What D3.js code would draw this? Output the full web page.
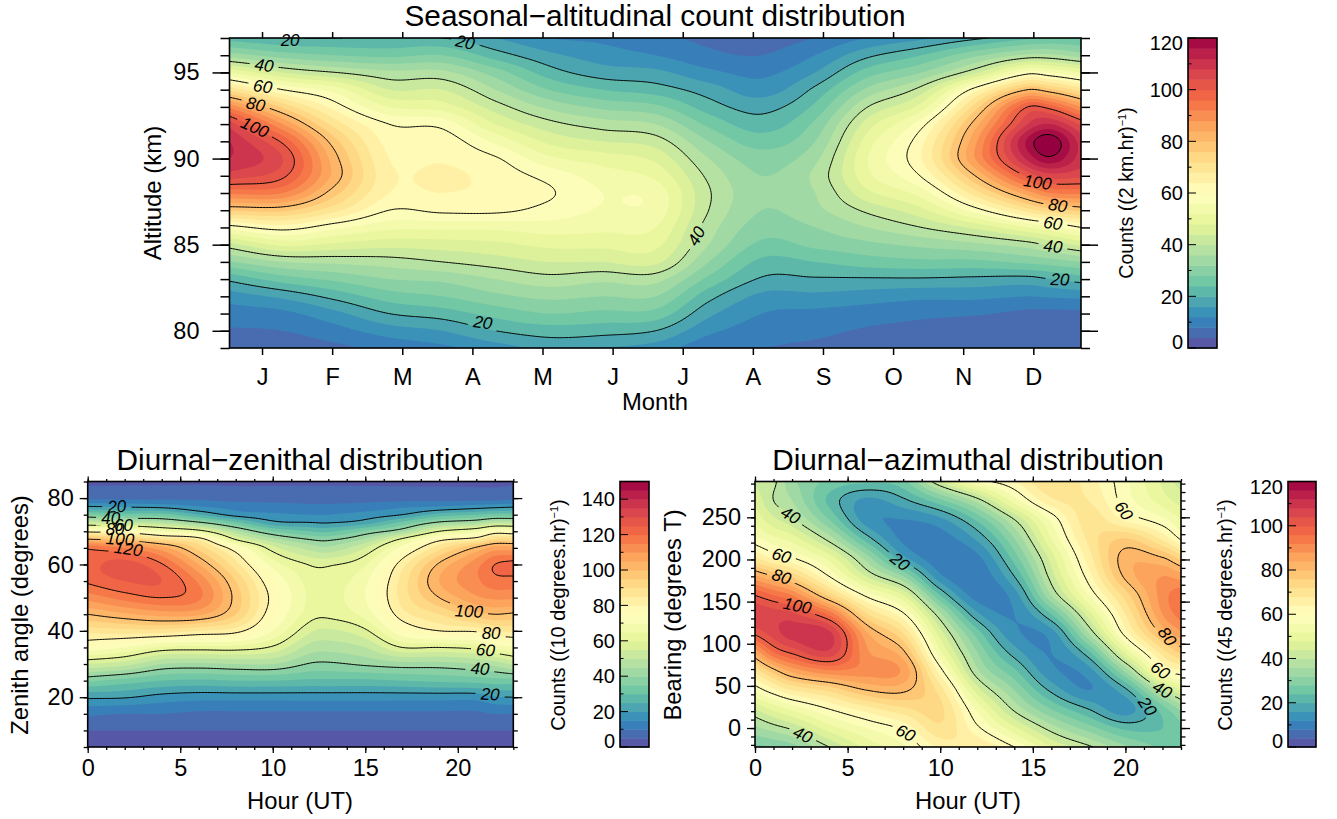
<!DOCTYPE html>
<html>
<head>
<meta charset="utf-8">
<script src="https://cdn.jsdelivr.net/npm/d3@7"></script>
<style>
  html, body { margin: 0; padding: 0; background: #fff; }
  svg { display: block; }
  text { font-family: "Liberation Sans", Arial, sans-serif; fill: #000; }
  .contour-label { font-style: italic; font-size: 17px; }
</style>
</head>
<body>
<svg width="1337" height="819"></svg>
<script>
// ---- Seasonal panel: one list of counts per month position, altitude from the top down
const seasonMonths = [-0.464, 0.295, 1.056, 1.81, 2.57, 3.33, 4.09, 4.85, 5.61, 6.37, 7.13, 7.89, 8.64, 9.41, 10.17, 10.92, 11.24, 11.68];
const seasonAltitudes = [97, 96, 95, 94, 93, 92, 91, 90, 89, 88, 87, 86, 85, 84, 83, 82, 81, 80, 79];
const seasonCounts = [
  [22, 34, 52, 71, 91, 106, 112, 112, 106, 93, 76.5, 58, 42.5, 31.5, 21, 14, 10, 7.5, 5],
  [20, 30, 44, 60, 75, 88, 99, 104, 101, 92, 77, 62, 49, 36, 26, 17, 11, 8, 5.5],
  [20, 28, 40, 54, 62, 70, 77, 81, 82, 77, 69, 57, 47, 37, 29, 21.5, 15, 10.5, 7],
  [20, 27, 37, 44, 52, 60, 62.5, 64, 65, 64, 60, 53, 45.5, 38, 32, 26, 20, 14, 9],
  [20, 28, 37, 44, 50, 58.5, 62.5, 63.5, 65, 64, 61, 53, 46, 40, 33, 28, 22, 16, 11],
  [16, 22, 30, 36, 42, 48, 55, 60.5, 62.5, 63, 61, 53, 47, 42, 36, 31, 25.5, 20, 14],
  [12, 17, 22, 28, 35, 41.5, 47, 53, 58.5, 60.5, 58.5, 54, 49, 44, 38.5, 33, 28, 22, 17],
  [11, 14, 18, 24, 31, 38, 44, 50, 54, 56, 55.5, 53, 49, 44, 37, 32, 27, 21.5, 16],
  [9, 12, 17, 22, 29, 36, 42, 47, 51, 54.5, 54.5, 52, 49, 45, 37.5, 32, 26.5, 20, 14],
  [7, 9, 13, 18, 22, 27, 32, 36, 39, 40.5, 40, 38, 36, 32, 27, 21.5, 17, 13, 9],
  [6, 8, 11, 14, 18.5, 22, 26, 30, 32, 33, 32, 30, 27, 23, 19.5, 15, 12, 10, 8],
  [8, 12, 16, 21, 25, 29, 32, 35, 37, 36, 35, 32, 29, 24, 19.5, 15, 11, 9, 7],
  [12, 19, 26, 33, 40, 46, 50, 52, 51, 47, 41, 36, 31, 26, 19.5, 14, 10, 7.5, 6],
  [15, 24, 32, 42, 50, 58.5, 63, 64, 60.5, 54, 47, 40, 33, 27, 19.5, 13, 9, 6.5, 5],
  [19, 31, 43, 62, 74, 82, 87, 88, 80, 70, 58, 45, 35, 27, 19, 13, 8.5, 5, 4.5],
  [23, 37, 58, 80, 100, 108, 117, 113, 101, 86, 70, 52, 38, 29, 18.5, 12, 7, 4.5, 4.5],
  [24, 37, 56, 77, 98, 112, 123, 119, 106, 92, 74, 55, 41, 30, 20, 12.5, 7, 5, 4.5],
  [24, 34, 52, 70, 88, 103, 110, 110, 105, 93, 77, 60, 45, 32, 22, 13, 7, 5, 4]
];
const monthTicks = [0, 1, 2, 3, 4, 5, 6, 7, 8, 9, 10, 11];
const monthNames = ['J', 'F', 'M', 'A', 'M', 'J', 'J', 'A', 'S', 'O', 'N', 'D'];

// ---- Zenith panel
const zenithHours = [0, 2, 4, 6, 8, 10, 12, 13, 15, 17, 19, 21, 22, 23];
const zenithAngles = [85, 80, 77.5, 75, 72.5, 70, 67.5, 65, 60, 55, 50, 45, 40, 35, 30, 25, 20, 15, 10, 5];
const zenithCounts = [
  [4, 9, 20, 35, 54, 78, 101, 119, 123, 121, 112, 100, 87, 74, 55, 36, 21, 11, 5, 3],
  [4, 9, 19, 32, 52, 76, 98, 115, 127, 125, 117, 104, 88, 70, 52, 33, 20.5, 10, 5, 3],
  [4, 9, 18, 32, 49, 69, 90, 107, 120.5, 125, 120, 107, 88, 64, 45, 30, 18, 10, 5, 3],
  [4, 9, 15, 25, 42, 63, 84, 93, 105, 114, 116, 106, 85, 63, 44, 29, 17, 9, 5, 3],
  [4, 8, 13, 18, 32, 47, 60, 76, 87, 95, 98, 95, 82, 63, 45, 30, 17, 9, 5, 3],
  [4, 8, 12, 16, 22, 35, 47, 57, 68, 75, 78, 76, 70, 59, 45, 30, 17, 9, 5, 3],
  [4, 8, 11, 15, 20.5, 30, 40, 48, 59.6, 63, 64, 62.5, 56, 48, 39.5, 29, 17, 9, 5, 3],
  [4, 8, 11, 15, 20, 29, 39, 46, 59.2, 62, 63, 61.4, 54, 47, 39, 29, 17, 9, 5, 3],
  [4, 8, 12, 17, 23, 36, 46, 55, 64.5, 69, 70, 67, 59, 50, 41, 29, 17, 9, 5, 3],
  [4, 8, 14, 20, 32, 44, 62, 72, 83, 87, 87, 83, 74, 60, 43, 30, 17, 9, 5, 3],
  [4, 8, 15, 27, 42, 60, 78, 88, 101, 105, 100, 90, 80, 60, 43, 31, 17, 9, 5, 3],
  [4, 8, 17, 30, 46, 67, 84, 101, 113, 114, 109, 98, 81, 62, 45, 32, 17, 9, 5, 3],
  [4, 8, 18, 32, 51, 75, 92, 107, 120, 118, 111, 100, 85, 67, 47, 33, 19.5, 10, 5, 3],
  [4, 9, 19, 32, 51, 74, 92, 107, 122, 118, 111, 99, 86, 70, 51, 33, 20, 10, 5, 3]
];

// ---- Azimuth panel
const azimuthHours = [0, 1, 2, 4, 6, 8, 10, 12, 14, 16, 18, 20, 22, 23];
const azimuthBearings = [292.5, 270, 247.5, 225, 202.5, 180, 157.5, 135, 112.5, 90, 67.5, 45, 22.5, 0, -22.5];
const azimuthCounts = [
  [43, 47, 51, 57, 68, 85, 100, 107, 101, 85, 69, 57, 44, 35, 27],
  [41, 40, 45, 53, 63, 80, 96, 106, 106, 96, 78, 63, 49, 38, 28],
  [33, 36, 41, 50, 60, 75, 92, 105, 110, 101, 85, 68, 53, 41, 30],
  [27, 23, 28, 38, 50, 60, 75, 95, 109, 107, 91, 73, 60, 50, 40],
  [25, 15, 14, 22, 34, 44, 59, 73, 85, 89, 90, 80, 66, 56, 49],
  [27, 19, 12, 11, 17, 32, 48, 61, 72, 81, 87, 81, 71, 61, 55],
  [44, 27, 15, 10, 9, 13, 24, 37, 46, 53, 62, 70, 73, 71, 65],
  [57, 38, 25, 17, 11, 9, 10, 17, 26, 32, 37, 46, 55, 61, 68],
  [64, 54, 40, 32, 26, 20, 14, 12, 13, 18, 25, 32, 39, 49, 60],
  [72, 67, 57, 52, 46, 42, 36, 24, 14, 12, 13, 19, 28, 38, 48],
  [66, 68, 70, 69, 66, 62, 56, 46, 36, 23, 14, 12, 20, 30, 41],
  [57, 58, 63, 76, 82, 81, 74, 68, 62, 49, 33, 19, 14, 23, 33],
  [47, 50, 57, 67, 80, 88, 90, 88, 81, 70, 59, 40, 26, 24, 27],
  [42, 46, 52, 59, 74, 86, 95, 94, 87, 77, 63, 48, 33, 27, 27]
];

const contourLevels = [20, 40, 60, 80, 100, 120];

const spectral = d3.schemeSpectral[11].slice().reverse();

// cubic Hermite through unevenly spaced nodes (nodes ascending)
function hermite(nodes, vals, t) {
  const n = nodes.length;
  let i = d3.bisectRight(nodes, t) - 1;
  i = Math.max(0, Math.min(n - 2, i));
  const h = nodes[i + 1] - nodes[i];
  const s = (t - nodes[i]) / h;
  const slope = k => {
    const a = Math.max(0, k - 1), b = Math.min(n - 1, k + 1);
    return (vals[b] - vals[a]) / (nodes[b] - nodes[a]);
  };
  const s2 = s * s, s3 = s2 * s;
  return (2 * s3 - 3 * s2 + 1) * vals[i] + (s3 - 2 * s2 + s) * h * slope(i)
    + (-2 * s3 + 3 * s2) * vals[i + 1] + (s3 - s2) * h * slope(i + 1);
}

const svg = d3.select('svg');
let uid = 0;

// the reference has soft band edges
svg.append('filter').attr('id', 'soft')
  .append('feGaussianBlur').attr('stdDeviation', 0.7);

function drawPanel(p) {
  const xScale = d3.scaleLinear().domain(p.xDomain).range([p.left, p.right]);
  const yScale = d3.scaleLinear().domain(p.yDomain).range([p.bottom, p.top]);
  const id = 'panel' + (uid++);

  // fine grid for the contouring
  const nx = Math.round((p.right - p.left) / 1.5) + 1;
  const ny = Math.round((p.bottom - p.top) / 1.5) + 1;
  const cellW = (p.right - p.left) / (nx - 1);
  const cellH = (p.bottom - p.top) / (ny - 1);

  const rowNodes = p.rows.map(d => -d);
  const rowsFirst = d3.range(p.rows.length).map(j => p.counts.map(col => col[j]));
  const xFine = d3.range(nx).map(i => xScale.invert(p.left + i * cellW));
  const resampledRows = rowsFirst.map(r => xFine.map(x => hermite(p.cols, r, x)));
  const grid = new Float64Array(nx * ny);
  for (let i = 0; i < nx; i++) {
    const colVals = resampledRows.map(r => r[i]);
    for (let j = 0; j < ny; j++) {
      const yVal = yScale.invert(p.top + j * cellH);
      grid[j * nx + i] = hermite(rowNodes, colVals, -yVal);
    }
  }

  const project = d3.geoTransform({
    point(px, py) {
      this.stream.point(p.left + (px - 0.5) * cellW, p.top + (py - 0.5) * cellH);
    }
  });
  const path = d3.geoPath(project);
  const colourScale = d3.scaleLinear()
    .domain(d3.range(11).map(i => i / 10 * p.barMax))
    .range(spectral);

  const step = p.barMax / 30;
  const bandEdges = d3.range(0, p.barMax + step, step);
  const contours = d3.contours().size([nx, ny]);

  svg.append('clipPath').attr('id', id + 'clip')
    .append('rect')
    .attr('x', p.left).attr('y', p.top)
    .attr('width', p.right - p.left).attr('height', p.bottom - p.top);

  const plot = svg.append('g').attr('clip-path', `url(#${id}clip)`);

  plot.append('rect')
    .attr('x', p.left).attr('y', p.top)
    .attr('width', p.right - p.left).attr('height', p.bottom - p.top)
    .attr('fill', colourScale(step / 2));

  plot.append('g')
    .attr('filter', 'url(#soft)')
    .selectAll('path')
    .data(contours.thresholds(bandEdges)(grid))
    .enter()
    .append('path')
    .attr('d', path)
    .attr('fill', d => colourScale(d.value + step / 2));

  // ---- label gaps are cut out of the lines with a mask
  const mask = svg.append('mask').attr('id', id + 'mask')
    .attr('maskUnits', 'userSpaceOnUse')
    .attr('x', 0).attr('y', 0).attr('width', 1337).attr('height', 819);
  mask.append('rect').attr('width', 1337).attr('height', 819).attr('fill', '#fff');

  const labelPlace = d => `translate(${xScale(d[1])},${yScale(d[2])}) rotate(${d[3]})`;

  mask.selectAll('rect.gap')
    .data(p.labels)
    .enter()
    .append('rect')
    .attr('class', 'gap')
    .attr('x', d => -(String(d[0]).length * 4.8 + 5))
    .attr('y', -8)
    .attr('width', d => String(d[0]).length * 9.6 + 10)
    .attr('height', 16)
    .attr('fill', '#000')
    .attr('transform', labelPlace);

  plot.append('g')
    .attr('mask', `url(#${id}mask)`)
    .selectAll('path')
    .data(contours.thresholds(contourLevels)(grid))
    .enter()
    .append('path')
    .attr('d', path)
    .attr('fill', 'none')
    .attr('stroke', '#000')
    .attr('stroke-width', 1);

  // ---- Eixos
  const t = p.ticks;
  const side = (axisFn, scale, values, size, where, format) => {
    const axis = axisFn(scale).tickValues(values).tickSize(size).tickSizeOuter(0);
    if (format) axis.tickFormat(format).tickPadding(t.pad);
    else axis.tickFormat('');
    const g = svg.append('g').attr('transform', where).call(axis);
    g.select('.domain').remove();
    g.selectAll('line').attr('stroke', '#000').attr('stroke-width', p.tickWidth);
    g.selectAll('text').style('font-size', p.tickFont + 'px').attr('fill', '#000')
      .style('font-family', '"Liberation Sans", Arial, sans-serif');
    return g;
  };
  const at = (x, y) => `translate(${x},${y})`;

  side(d3.axisLeft, yScale, p.yMinor, t.leftMinor, at(p.left, 0));
  side(d3.axisLeft, yScale, p.yMajor, t.leftMajor, at(p.left, 0), d3.format('d'));
  side(d3.axisRight, yScale, p.yMinor, t.rightMinor, at(p.right, 0));
  side(d3.axisRight, yScale, p.yMajor, t.rightMajor, at(p.right, 0));
  if (p.xMinor) {
    side(d3.axisBottom, xScale, p.xMinor, t.bottomMinor, at(0, p.bottom));
    side(d3.axisTop, xScale, p.xMinor, t.topMinor, at(0, p.top));
  }
  side(d3.axisBottom, xScale, p.xMajor, t.bottomMajor, at(0, p.bottom), p.xFormat);
  side(d3.axisTop, xScale, p.xMajor, t.topMajor, at(0, p.top));

  svg.append('rect')
    .attr('x', p.left).attr('y', p.top)
    .attr('width', p.right - p.left).attr('height', p.bottom - p.top)
    .attr('fill', 'none').attr('stroke', '#000').attr('stroke-width', 1.6);

  // labels sit over the frame, the top ones cross it
  svg.append('g').selectAll('text')
    .data(p.labels)
    .enter()
    .append('text')
    .attr('class', 'contour-label')
    .attr('text-anchor', 'middle')
    .attr('dy', '0.36em')
    .attr('transform', labelPlace)
    .text(d => d[0]);

  // ---- Titles
  svg.append('text')
    .attr('x', p.titleX).attr('y', p.titleY)
    .attr('text-anchor', 'middle')
    .style('font-size', p.titleFont + 'px')
    .text(p.title);
  svg.append('text')
    .attr('x', p.titleX).attr('y', p.xTitleY)
    .attr('text-anchor', 'middle')
    .style('font-size', p.xTitleFont + 'px')
    .text(p.xTitle);
  svg.append('text')
    .attr('transform', `translate(${p.yTitleX},${p.yTitleY}) rotate(-90)`)
    .attr('text-anchor', 'middle')
    .style('font-size', p.yTitleFont + 'px')
    .text(p.yTitle);

  // ---- Colour bar
  const barScale = d3.scaleLinear().domain([0, p.barMax]).range([p.bottom, p.top]);
  svg.append('g').selectAll('rect')
    .data(d3.range(0, p.barMax, step))
    .enter()
    .append('rect')
    .attr('x', p.barLeft)
    .attr('width', p.barRight - p.barLeft)
    .attr('y', d => barScale(d + step))
    .attr('height', d => barScale(d) - barScale(d + step) + 0.5)
    .attr('fill', d => colourScale(d + step / 2));

  const barTicks = svg.append('g');
  barTicks.selectAll('line')
    .data(d3.range(0, p.barMax + 1, 10))
    .enter()
    .append('line')
    .attr('x1', p.barLeft)
    .attr('x2', d => p.barLeft + (d % 20 === 0 ? 8 : 3.5))
    .attr('y1', d => barScale(d))
    .attr('y2', d => barScale(d))
    .attr('stroke', '#000')
    .attr('stroke-width', 1);

  svg.append('rect')
    .attr('x', p.barLeft).attr('y', p.top)
    .attr('width', p.barRight - p.barLeft).attr('height', p.bottom - p.top)
    .attr('fill', 'none').attr('stroke', '#000').attr('stroke-width', 1.6);

  barTicks.selectAll('text')
    .data(d3.range(0, p.barMax + 1, 20))
    .enter()
    .append('text')
    .attr('x', p.barLeft - 5)
    .attr('y', d => Math.min(p.bottom - 6, Math.max(p.top + 5, barScale(d))))
    .attr('dy', '0.36em')
    .attr('text-anchor', 'end')
    .style('font-size', p.barFont + 'px')
    .text(d => d);

  const barTitle = svg.append('text')
    .attr('transform', `translate(${p.barTitleX},${p.yTitleY}) rotate(-90)`)
    .attr('text-anchor', 'middle')
    .style('font-size', p.barTitleFont + 'px');
  barTitle.append('tspan').text(p.barTitle);
  barTitle.append('tspan').attr('dy', -7).style('font-size', '11px').text('\u22121');
  barTitle.append('tspan').attr('dy', 7).text(')');
}

const bigTicks = { leftMajor: 17, leftMinor: 9, rightMajor: 17, rightMinor: 9, bottomMajor: 7, topMajor: 6, pad: 13 };
const smallTicks = { leftMajor: 8, leftMinor: 4, rightMajor: 9, rightMinor: 4.5, bottomMajor: 6, bottomMinor: 3, topMajor: 5, topMinor: 2.5, pad: 6 };

drawPanel({
  cols: seasonMonths, rows: seasonAltitudes, counts: seasonCounts,
  left: 229.5, right: 1081, top: 38, bottom: 348,
  xDomain: [-0.464, 11.68], yDomain: [79, 97],
  xMajor: monthTicks, xFormat: d => monthNames[d],
  yMajor: [80, 85, 90, 95], yMinor: d3.range(79, 98),
  ticks: bigTicks, tickWidth: 1.5, tickFont: 23.5,
  labels: [
    [20, 0.40, 96.88, 0], [20, 2.9, 96.77, 12], [40, 0.03, 95.43, 8], [60, 0.01, 94.2, 8],
    [80, -0.09, 93.17, 12], [100, -0.1, 91.83, 24], [20, 3.15, 80.5, 8], [40, 6.19, 85.5, -60],
    [100, 11.06, 88.64, 8], [80, 11.35, 87.3, 10], [60, 11.28, 86.26, 8], [40, 11.28, 84.92, 5], [20, 11.38, 83.0, 2]
  ],
  title: 'Seasonal\u2212altitudinal count distribution', titleX: 655, titleY: 26, titleFont: 29.8,
  xTitle: 'Month', xTitleY: 410, xTitleFont: 23.8,
  yTitle: 'Altitude (km)', yTitleX: 161, yTitleY: 193, yTitleFont: 24,
  barLeft: 1188, barRight: 1217, barMax: 120, barFont: 20,
  barTitle: 'Counts ((2 km.hr)', barTitleX: 1133, barTitleFont: 19.6
});

drawPanel({
  cols: zenithHours, rows: zenithAngles, counts: zenithCounts,
  left: 87.7, right: 513.3, top: 481.5, bottom: 747,
  xDomain: [0, 23], yDomain: [5, 85],
  xMajor: [0, 5, 10, 15, 20], xMinor: d3.range(0, 24), xFormat: d3.format('d'),
  yMajor: [20, 40, 60, 80], yMinor: d3.range(5, 86, 5),
  ticks: smallTicks, tickWidth: 1.3, tickFont: 23.5,
  labels: [
    [20, 1.57, 77.6, -3], [40, 1.24, 74.1, 0], [60, 1.93, 71.8, 0], [80, 1.48, 70.8, 0],
    [100, 1.75, 67.8, 3], [120, 2.2, 64.8, 8], [100, 20.6, 46, 3], [80, 21.8, 39.5, 0],
    [60, 21.5, 34.3, 5], [40, 21.2, 28.7, 4], [20, 21.75, 21, 3]
  ],
  title: 'Diurnal\u2212zenithal distribution', titleX: 300, titleY: 470, titleFont: 29.8,
  xTitle: 'Hour (UT)', xTitleY: 809, xTitleFont: 23.8,
  yTitle: 'Zenith angle (degrees)', yTitleX: 28, yTitleY: 615, yTitleFont: 23.8,
  barLeft: 620, barRight: 649, barMax: 150, barFont: 20,
  barTitle: 'Counts ((10 degrees.hr)', barTitleX: 565, barTitleFont: 20
});

drawPanel({
  cols: azimuthHours, rows: azimuthBearings, counts: azimuthCounts,
  left: 755, right: 1181, top: 481.5, bottom: 747,
  xDomain: [0, 23], yDomain: [-22.5, 292.5],
  xMajor: [0, 5, 10, 15, 20], xMinor: d3.range(0, 24), xFormat: d3.format('d'),
  yMajor: [0, 50, 100, 150, 200, 250], yMinor: d3.range(-20, 291, 10),
  ticks: smallTicks, tickWidth: 1.3, tickFont: 23.5,
  labels: [
    [40, 1.93, 252.8, 30], [60, 1.44, 205, 18], [80, 1.44, 180, 18], [100, 2.29, 145.5, 12],
    [20, 7.84, 197.6, 38], [40, 2.58, -7.5, 25], [60, 8.14, -5.5, 28], [60, 19.93, 258, 55],
    [80, 22.27, 109, 55], [60, 21.9, 69, 35], [40, 22.0, 45.7, 30], [20, 21.2, 26, 55]
  ],
  title: 'Diurnal\u2212azimuthal distribution', titleX: 968, titleY: 470, titleFont: 29.8,
  xTitle: 'Hour (UT)', xTitleY: 809, xTitleFont: 23.8,
  yTitle: 'Bearing (degrees T)', yTitleX: 681, yTitleY: 615, yTitleFont: 23.8,
  barLeft: 1288, barRight: 1316, barMax: 120, barFont: 20,
  barTitle: 'Counts ((45 degrees.hr)', barTitleX: 1232, barTitleFont: 20
});
</script>
</body>
</html>
